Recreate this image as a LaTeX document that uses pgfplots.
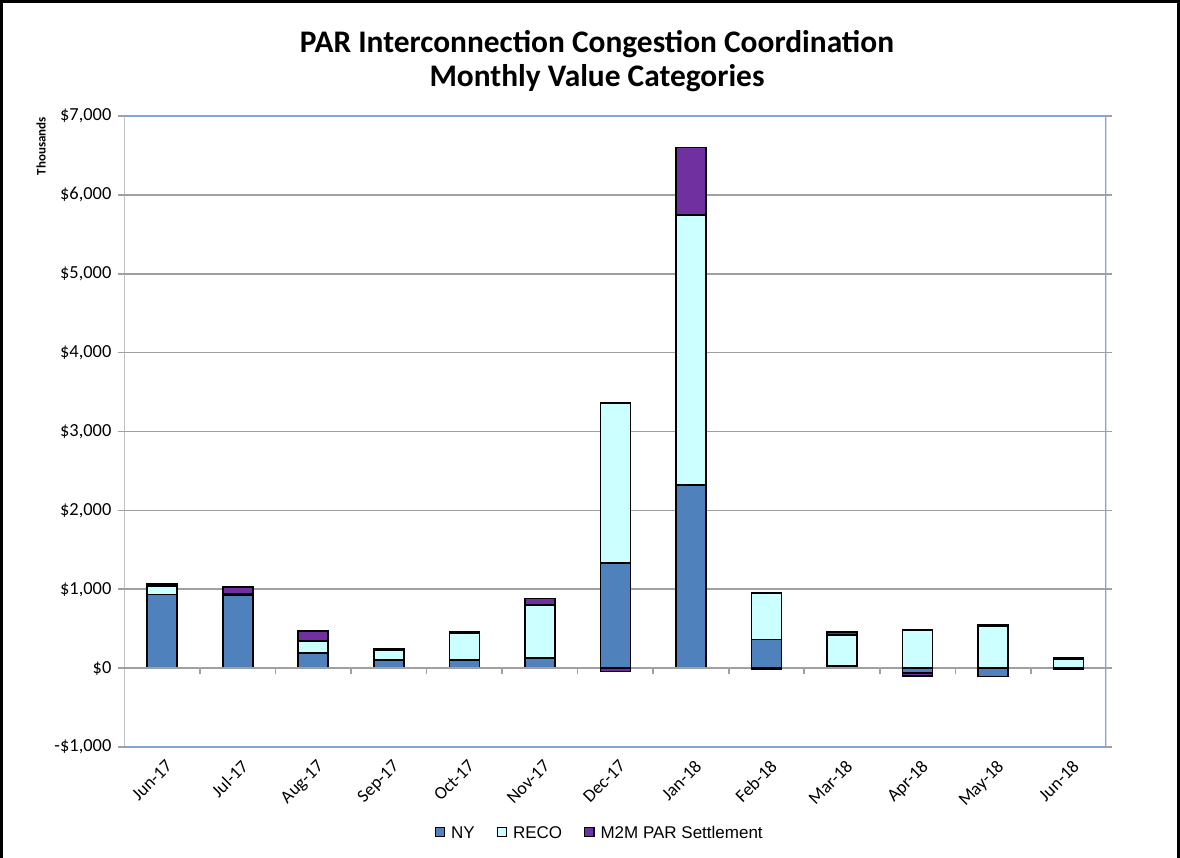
\documentclass[border=0pt]{standalone}
\usepackage{pgfplots}
\pgfplotsset{compat=1.18}
\usepackage{pgfplotstable}
\usepackage{fontspec}
\setmainfont{Carlito}
\newfontfamily\arialf{Liberation Sans}
\definecolor{nyblue}{HTML}{4F81BD}
\definecolor{reco}{HTML}{CCFFFF}
\definecolor{m2m}{HTML}{7030A0}
\definecolor{gridgray}{HTML}{A0A0A0}
\definecolor{frameblue}{HTML}{7EA6D8}
% positive parts (stacked upward)
\pgfplotstableread{
x NY RECO M2M
0 934 106 25
1 925 15 90
2 194 148 131
3 100 128 17
4 100 348 17
5 130 670 85
6 1331 2029 0
7 2325 3423 855
8 365 590 0
9 25 395 40
10 0 480 0
11 0 535 20
12 0 107 25
}\postab
% negative parts (stacked downward)
\pgfplotstableread{
x NY M2M
0 0 0
1 0 0
2 0 0
3 0 0
4 0 0
5 0 0
6 0 -45
7 0 0
8 0 -10
9 0 0
10 -60 -40
11 -105 0
12 -15 0
}\negtab
\begin{document}
\begin{tikzpicture}
\useasboundingbox (0pt,0pt) rectangle (590pt,429pt);
\draw[line width=1.6pt] (0.8pt,-1pt) -- (0.8pt,428.2pt) -- (589.2pt,428.2pt) -- (589.2pt,-1pt);
\node[font=\bfseries\fontsize{15.7}{18}\selectfont] at (298.5pt,407pt) {PAR Interconnection Congestion Coordination};
\node[font=\bfseries\fontsize{15.7}{18}\selectfont] at (298.5pt,390pt) {Monthly Value Categories};
\node[font=\bfseries\fontsize{6.5}{8}\selectfont, rotate=90] at (20.5pt,356pt) {Thousands};
\pgfplotsset{
  common/.style={
    scale only axis, width=491pt, height=315.5pt,
    at={(62.2pt,55.5pt)}, anchor=south west,
    xmin=-0.5, xmax=12.5, ymin=-1000, ymax=7000,
    ybar stacked, bar width=15pt,
  }
}
\begin{axis}[common,
  axis line style={draw=none},
  ytick={-1000,0,1000,2000,3000,4000,5000,6000,7000},
  yticklabels={{-\$1,000},{\$0},{\$1,000},{\$2,000},{\$3,000},{\$4,000},{\$5,000},{\$6,000},{\$7,000}},
  xtick={0,...,12},
  xticklabels={Jun-17,Jul-17,Aug-17,Sep-17,Oct-17,Nov-17,Dec-17,Jan-18,Feb-18,Mar-18,Apr-18,May-18,Jun-18},
  major x tick style={draw=none},
  y tick style={draw=gridgray, line width=0.8pt},
  tick align=outside, major tick length=3pt,
  ymajorgrids, major grid style={gridgray, line width=0.8pt},
  xticklabel style={font=\fontsize{9}{10}\selectfont, rotate=45, anchor=north east, inner sep=1pt, yshift=-2pt},
  yticklabel style={font=\fontsize{9.2}{10}\selectfont},
  legend style={at={(0.485,-0.138)}, anchor=center, draw=none, legend columns=3,
    font=\arialf\fontsize{8.5}{10}\selectfont, column sep=9pt,
    /tikz/every odd column/.style={column sep=1pt}},
  legend image code/.code={\path[draw=black, line width=0.6pt, #1] (0pt,-1.2pt) rectangle (4.6pt,3.4pt);},
  every axis plot/.append style={draw=black, line width=0.8pt},
]
\draw[gridgray, line width=0.8pt] (axis cs:-0.5,-1000) -- (axis cs:-0.5,7000);
\draw[gridgray, line width=0.8pt] (axis cs:-0.5,0) -- (axis cs:12.5,0);
\foreach \t in {0.5,1.5,...,11.5} {
  \edef\tmp{\noexpand\draw[gridgray, line width=0.8pt] (axis cs:\t,0) -- ([yshift=-3pt]axis cs:\t,0);}\tmp
}
\addplot[fill=nyblue, forget plot] table[x=x,y=NY]{\postab};
\addplot[fill=reco, forget plot] table[x=x,y=RECO]{\postab};
\addplot[fill=m2m, forget plot] table[x=x,y=M2M]{\postab};
\addlegendimage{fill=nyblue}
\addlegendentry{NY}
\addlegendimage{fill=reco}
\addlegendentry{RECO}
\addlegendimage{fill=m2m}
\addlegendentry{M2M PAR Settlement}
\draw[frameblue, line width=1pt] (axis cs:-0.5,7000) -- (axis cs:12.5,7000) -- (axis cs:12.5,-1000) -- (axis cs:-0.5,-1000);
\end{axis}
\begin{axis}[common, hide axis,
  every axis plot/.append style={draw=black, line width=0.8pt}]
\addplot[fill=nyblue] table[x=x,y=NY]{\negtab};
\addplot[fill=m2m] table[x=x,y=M2M]{\negtab};
\end{axis}
\end{tikzpicture}
\end{document}
